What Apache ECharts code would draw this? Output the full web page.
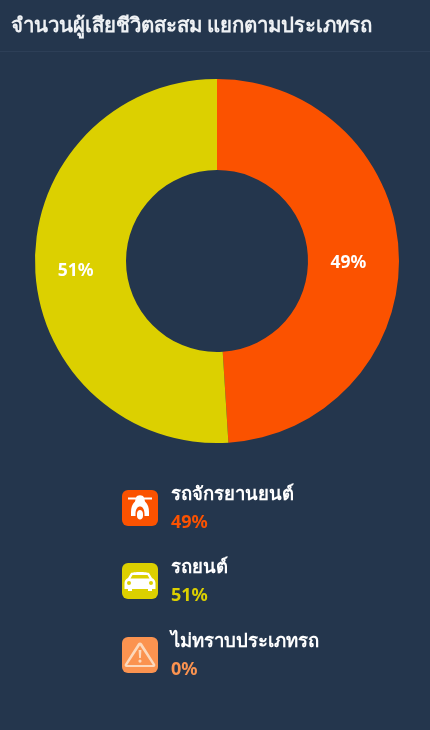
<!DOCTYPE html>
<html><head><meta charset="utf-8">
<style>html,body{margin:0;padding:0;background:#24364d}#c{width:430px;height:730px}</style>
<script src="https://cdn.jsdelivr.net/npm/echarts@6/dist/echarts.min.js"></script>
</head><body><div id="c"></div>
<script>
const titleText = 'จำนวนผู้เสียชีวิตสะสม แยกตามประเภทรถ';
const categories = ['รถจักรยานยนต์', 'รถยนต์', 'ไม่ทราบประเภทรถ'];
const shares = [49, 51, 0];
const colors = ['#fb5200', '#dcd000', '#fb9350'];
const FONT = '"Noto Sans","Open Sans",Lato,sans-serif';
const rowY = [490, 563, 637];
const labelShift = [[-8, 6], [-2, 6], [0, 0]];

const iconPaths = {
  scooter:'M-12 -10.5H-4C-3 -13.5 3 -13.5 4 -10.5H12V-8.5H4.5L5 -6.5C8 -4 9 0 9 4V8H4.5V6C4.5 1 2.5 -1.5 0 -1.5C-2.5 -1.5 -4.5 1 -4.5 6V8H-9V4C-9 0 -8 -4 -5 -6.5L-4.5 -8.5H-12ZM-3 6C-3 0.5 3 0.5 3 6V8C3 12.5 -3 12.5 -3 8Z',
  car:'M-9 -8C-7 -9.5 7 -9.5 9 -8L12 -3C14.5 -2 15.5 0 15.5 2.5V8H12V10H8V8H-8V10H-12V8H-15.5V2.5C-15.5 0 -14.5 -2 -12 -3ZM-7.5 -6L-9.5 -2.5H9.5L7.5 -6ZM-11 0A2 2 0 1 0 -11 4A2 2 0 1 0 -11 0ZM11 0A2 2 0 1 0 11 4A2 2 0 1 0 11 0Z',
  warn:'M-2 -11.5C-1 -13 1 -13 2 -11.5L15 9C16 10.5 15 12 13.5 12H-13.5C-15 12 -16 10.5 -15 9ZM0 -9.5L-12.8 10H12.8ZM-1.4 -5H1.4L0.9 3H-0.9ZM0 4.5A1.6 1.6 0 1 1 0 7.7A1.6 1.6 0 1 1 0 4.5Z'
};
const iconNames = ['scooter', 'car', 'warn'];
Object.keys(iconPaths).forEach(k => {
  echarts.graphic.registerShape(k, echarts.graphic.extendPath(iconPaths[k], {}));
});

const chart = echarts.init(document.getElementById('c'), null, {renderer:'canvas'});
const graphics = [
  {type:'line', shape:{x1:0,y1:51.5,x2:430,y2:51.5}, style:{stroke:'#2d3f57',lineWidth:1}, silent:true}
];
categories.forEach((name, i) => {
  const y = rowY[i];
  graphics.push({type:'rect', x:122, y:y, shape:{x:0,y:0,width:36,height:36,r:6}, style:{fill:colors[i]}, silent:true});
  graphics.push({type:iconNames[i], x:140, y:y+18, style:{fill:i===2?'#fcd9bd':'#fff', fillRule:'evenodd'}, silent:true});
  graphics.push({type:'text', x:171, y:y+5, style:{text:name, fill:'#fff', font:'bold 18.5px '+FONT, verticalAlign:'middle'}, silent:true});
  graphics.push({type:'text', x:171, y:y+33, style:{text:shares[i]+'%', fill:colors[i], font:'bold 18px '+FONT, verticalAlign:'middle'}, silent:true});
});
chart.setOption({
  backgroundColor:'#24364d',
  animation:false,
  title:{text:titleText, left:6, top:11, textStyle:{color:'#eef1f4', fontSize:20.4, fontWeight:'bold', fontFamily:FONT}},
  series:[{
    type:'pie', center:[217,261], radius:[91,182], startAngle:90, clockwise:true,
    avoidLabelOverlap:false,
    data:categories.map((n,i)=>({name:n, value:shares[i], itemStyle:{color:colors[i]}, label:{show:shares[i]>0, offset:labelShift[i]}})),
    label:{position:'inside', formatter:'{c}%', color:'#fff', fontSize:17.5, fontWeight:'bold', fontFamily:FONT},
    labelLine:{show:false}
  }],
  graphic:graphics
});
</script></body></html>
